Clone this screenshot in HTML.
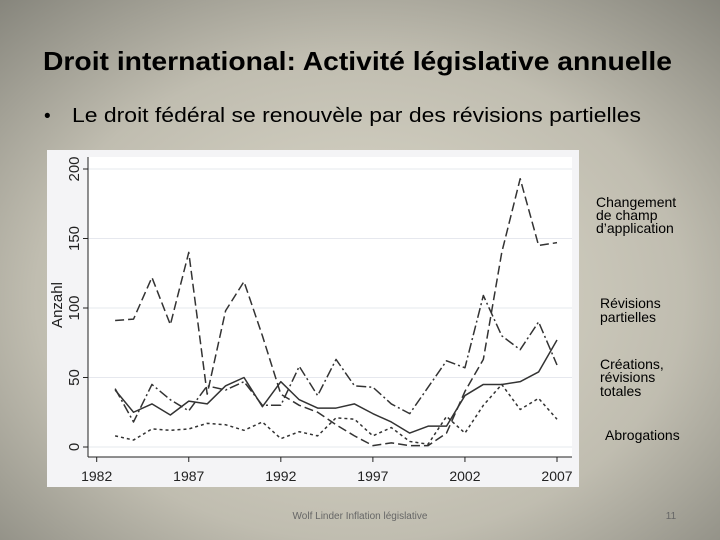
<!DOCTYPE html>
<html><head><meta charset="utf-8"><style>
html,body{margin:0;padding:0;width:720px;height:540px;overflow:hidden}
svg{display:block;font-family:"Liberation Sans",sans-serif}
</style></head><body>
<svg id="s" width="720" height="540" viewBox="0 0 720 540">
<defs>
<radialGradient id="bg" cx="0.5" cy="0.55" r="0.75">
<stop offset="0" stop-color="#dedbcc"/><stop offset="0.6" stop-color="#c0bdb0"/><stop offset="1" stop-color="#85847b"/>
</radialGradient>
</defs>
<rect width="720" height="540" fill="url(#bg)"/>
<text x="43" y="70" font-size="26" font-weight="bold" textLength="629" lengthAdjust="spacingAndGlyphs" fill="#000">Droit international: Activité législative annuelle</text>
<text x="44" y="122" font-size="19" fill="#000">•</text>
<text x="72" y="122" font-size="20" textLength="569" lengthAdjust="spacingAndGlyphs" fill="#000">Le droit fédéral se renouvèle par des révisions partielles</text>
<rect x="47" y="150" width="532" height="337" fill="#f4f4f6"/>
<rect x="88" y="157" width="484" height="300" fill="#ffffff"/>
<g id="grid"></g><g id="axes"></g><g id="series"></g>
<text transform="translate(62,305) rotate(-90)" font-size="15" text-anchor="middle" fill="#222">Anzahl</text>
<g font-size="14" fill="#000">
<text x="596" y="207"><tspan x="596">Changement</tspan><tspan x="596" dy="13">de champ</tspan><tspan x="596" dy="13">d’application</tspan></text>
<text x="600" y="308"><tspan x="600">Révisions</tspan><tspan x="600" dy="14">partielles</tspan></text>
<text x="600" y="369"><tspan x="600">Créations,</tspan><tspan x="600" dy="13">révisions</tspan><tspan x="600" dy="14">totales</tspan></text>
<text x="605" y="440">Abrogations</text>
</g>
<text x="360" y="519" font-size="10" fill="#666" text-anchor="middle">Wolf Linder Inflation législative</text>
<text x="671" y="519" font-size="10" fill="#666" text-anchor="middle">11</text>
</svg>
<script>
const years=[1983,1984,1985,1986,1987,1988,1989,1990,1991,1992,1993,1994,1995,1996,1997,1998,1999,2000,2001,2002,2003,2004,2005,2006,2007];
const longDash=[91,92,122,88,140,38,98,119,80,38,30,25,16,8,1,3,1,1,10,40,63,140,193,145,147];
const dashDot=[42,18,45,34,26,44,41,47,30,30,58,37,63,44,43,31,24,43,62,57,109,80,70,90,59];
const solid=[41,25,31,23,33,31,44,50,29,47,34,28,28,31,24,18,10,15,15,37,45,45,47,54,77];
const dotted=[8,5,13,12,13,17,16,12,18,6,11,8,21,20,8,14,4,2,22,10,30,45,27,35,20];
const xTicks=[1982,1987,1992,1997,2002,2007];
const yTicks=[0,50,100,150,200];
const NS="http://www.w3.org/2000/svg";
const X=y=>96.7+(y-1982)*(557-96.7)/25;
const Y=v=>447-v*(447-169)/200;
function mk(t,a,p){const e=document.createElementNS(NS,t);for(const k in a)e.setAttribute(k,a[k]);p.appendChild(e);return e;}
const grid=document.getElementById('grid'),axes=document.getElementById('axes'),ser=document.getElementById('series');
mk('line',{x1:88,y1:457,x2:572,y2:457,stroke:'#222','stroke-width':1},axes);
mk('line',{x1:88,y1:157,x2:88,y2:457,stroke:'#222','stroke-width':1},axes);
yTicks.forEach(v=>{
 const g=mk('line',{x1:88,y1:Y(v),x2:572,y2:Y(v),stroke:'#e6e8ee','stroke-width':1},grid);
 
 
 mk('line',{x1:83,y1:Y(v),x2:88,y2:Y(v),stroke:'#222'},axes);
 const t=mk('text',{transform:`translate(79,${Y(v)}) rotate(-90)`,'text-anchor':'middle','font-size':15,fill:'#222'},axes);
 t.textContent=v;
 
 
});
xTicks.forEach(v=>{
 mk('line',{x1:X(v),y1:457,x2:X(v),y2:462,stroke:'#222'},axes);
 const t=mk('text',{x:X(v),y:481,'text-anchor':'middle','font-size':14,fill:'#222'},axes);
 t.textContent=v;
 
 
});
function line(vals,dash,name){
 const p=mk('polyline',{points:vals.map((v,i)=>X(years[i])+','+Y(v)).join(' '),fill:'none',stroke:'#333','stroke-width':1.5,'stroke-dasharray':dash,'stroke-linejoin':'round'},ser);
 
 
}
line(longDash,'9 4','series-changement-champ');
line(dashDot,'10 3 2 3','series-revisions-partielles');
line(solid,'none','series-creations');
line(dotted,'3 3','series-abrogations');
</script>
</body></html>
